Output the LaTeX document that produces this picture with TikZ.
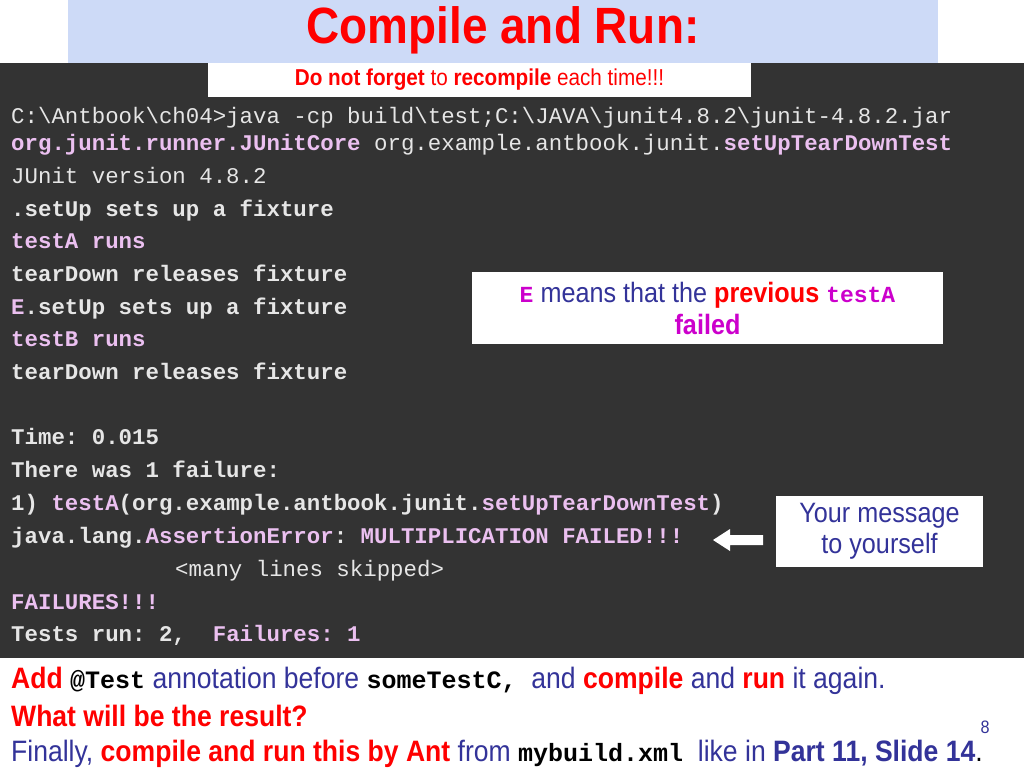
\documentclass[tikz,border=0pt]{standalone}
\usepackage{fontspec}
\setmainfont{Liberation Sans}
\setmonofont{Liberation Mono}
\newfontfamily\narrow[FakeStretch=0.9]{Liberation Sans}
\definecolor{term}{HTML}{333333}
\definecolor{tx}{HTML}{E6E6E6}
\definecolor{pk}{HTML}{EBC0F0}
\definecolor{tband}{HTML}{CDDAF7}
\definecolor{nv}{HTML}{333399}
\definecolor{rd}{HTML}{FF0000}
\definecolor{em}{HTML}{CC00CC}
\begin{document}
\begin{tikzpicture}[x=1pt,y=-1pt,
  tl/.style={anchor=base west,inner sep=0,text=tx,font=\fontsize{22.4}{22}\ttfamily},
  tb/.style={tl,font=\fontsize{22.4}{22}\ttfamily\bfseries},
  bl/.style={anchor=base west,inner sep=0,font=\fontsize{29.5}{28}\narrow},
  wbox/.style={fill=white,draw=none}]
\useasboundingbox (0,0) rectangle (1024,768);
\fill[white] (0,0) rectangle (1024,768);
\fill[tband] (68,0) rectangle (938,63);
\node[inner sep=0,text=rd,font=\fontsize{51}{51}\narrow\bfseries] (title) at (503,30) {Compile and Run:};
\fill[term] (0,63) rectangle (1024,658);
\node[wbox,minimum width=543,minimum height=34,font=\fontsize{23}{23}\narrow] (forget) at (479.5,80)
  {\textcolor{rd}{\bfseries Do not forget} \textcolor{rd}{to} \textcolor{rd}{\bfseries recompile} \textcolor{rd}{each time!!!}};
\node[tl] (l1) at (11,123) {C:\textbackslash Antbook\textbackslash ch04>java -cp build\textbackslash test;C:\textbackslash JAVA\textbackslash junit4.8.2\textbackslash junit-4.8.2.jar};
\node[tl] (l2) at (11,150) {\textcolor{pk}{\bfseries org.junit.runner.JUnitCore} org.example.antbook.junit.\textcolor{pk}{\bfseries setUpTearDownTest}};
\node[tl] (l3) at (11,183) {JUnit version 4.8.2};
\node[tb] (l4) at (11,216) {.setUp sets up a fixture};
\node[tb,text=pk] (l5) at (11,248) {testA runs};
\node[tb] (l6) at (11,281) {tearDown releases fixture};
\node[tb] (l7) at (11,314) {\textcolor{pk}{E}.setUp sets up a fixture};
\node[tb,text=pk] (l8) at (11,346) {testB runs};
\node[tb] (l9) at (11,379) {tearDown releases fixture};
\node[tb] (l10) at (11,444) {Time: 0.015};
\node[tb] (l11) at (11,477) {There was 1 failure:};
\node[tb] (l12) at (11,510) {1) \textcolor{pk}{testA}(org.example.antbook.junit.\textcolor{pk}{setUpTearDownTest})};
\node[tb] (l13) at (11,543) {java.lang.\textcolor{pk}{AssertionError}: \textcolor{pk}{MULTIPLICATION FAILED!!!}};
\node[tl] (l14) at (175,576) {<many lines skipped>};
\node[tb,text=pk] (l15) at (11,609) {FAILURES!!!};
\node[tb] (l16) at (11,641) {Tests run: 2,\ \ \textcolor{pk}{Failures: 1}};
\node[wbox,minimum width=471,minimum height=72,align=center,font=\fontsize{28}{32}\narrow] (ebox) at (707.5,308)
  {\textcolor{em}{\ttfamily\bfseries\fontsize{23}{23}\selectfont E} \textcolor{nv}{means that the} \textcolor{rd}{\bfseries previous} \textcolor{em}{\ttfamily\bfseries\fontsize{23}{23}\selectfont testA}\\ \textcolor{em}{\bfseries failed}};
\node[wbox,minimum width=207,minimum height=71,align=center,text=nv,font=\fontsize{28}{31}\narrow] (msg) at (879.5,531.5) {Your message\\to yourself};
\coordinate (ar) at (713,540);
\fill[white] (763,535) -- (730,535) -- (730,529) -- (ar) -- (730,551) -- (730,545) -- (763,545) -- cycle;
\node[bl] (b1) at (11,688) {\textcolor{rd}{\bfseries Add} {\ttfamily\bfseries\fontsize{25}{25}\selectfont @Test} \textcolor{nv}{annotation before} {\ttfamily\bfseries\fontsize{25}{25}\selectfont someTestC,} \ \textcolor{nv}{and} \textcolor{rd}{\bfseries compile} \textcolor{nv}{and} \textcolor{rd}{\bfseries run} \textcolor{nv}{it again.}};
\node[bl,text=rd,font=\fontsize{29.5}{28}\narrow\bfseries] (b2) at (11,726) {What will be the result?};
\node[bl] (b3) at (11,761) {\textcolor{nv}{Finally,} \textcolor{rd}{\bfseries compile and run this by Ant} \textcolor{nv}{from} {\ttfamily\bfseries\fontsize{25}{25}\selectfont mybuild.xml} \ \textcolor{nv}{like in} \textcolor{nv}{\bfseries Part 11, Slide 14}.};
\node[anchor=base,inner sep=0,text=nv,font=\fontsize{18}{18}\narrow] (pg) at (985,733) {8};
\end{tikzpicture}
\end{document}
